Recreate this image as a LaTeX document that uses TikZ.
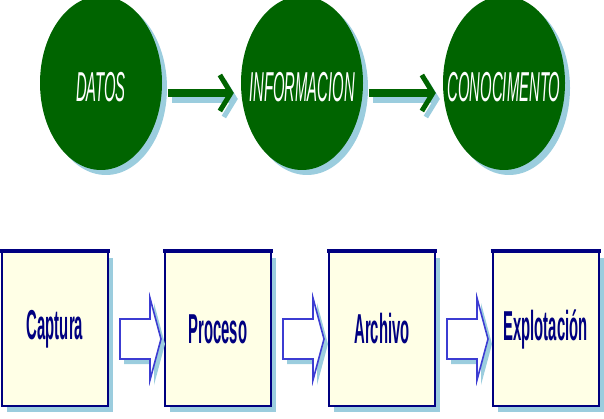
\documentclass[tikz,border=0pt]{standalone}
\usepackage{fontspec}
\setmainfont{Liberation Sans}
\usetikzlibrary{shapes.geometric,shadows,arrows.meta,calc}
\definecolor{dgreen}{RGB}{0,100,0}
\definecolor{shblue}{RGB}{155,205,222}
\definecolor{cream}{RGB}{255,255,230}
\definecolor{navy}{RGB}{0,0,128}
\definecolor{arrblue}{RGB}{60,60,210}
\newcommand\circtext[1]{\makebox[0pt]{\raisebox{-18.5pt}[0pt][0pt]{\scalebox{0.55}[1.55]{\fontsize{27}{27}\selectfont\itshape #1}}}}
\newcommand\boxtext[1]{\scalebox{0.55}[1.55]{\fontsize{27}{27}\selectfont\bfseries #1}}
\tikzset{
  circ/.style={ellipse, fill=dgreen, text=white, inner sep=0pt,
    minimum width=122pt, minimum height=174pt,
    drop shadow={shadow xshift=5pt, shadow yshift=-5pt, fill=shblue, opacity=1}},
  stage/.style={rectangle, fill=cream, draw=navy, line width=2pt, text=navy,
    inner sep=0pt, minimum width=106pt, minimum height=154pt,
    drop shadow={shadow xshift=5pt, shadow yshift=-6pt, fill=shblue, opacity=1}},
  garrow/.style={draw=dgreen, line width=8pt,
    -{Straight Barb[length=11pt,width=36pt,line width=5pt]}},
  gshadow/.style={draw=shblue, line width=8pt,
    -{Straight Barb[length=11pt,width=36pt,line width=5pt]}},
  harrow/.style={draw=arrblue, line width=1.6pt, fill=white, line join=miter},
  hshadow/.style={fill=shblue}
}
\newcommand\hollowarrow[1]{%
  \fill[hshadow, shift={($(#1.east)+(4,5)$)}] (11,-10) -- (41,-10) -- (41,-31) -- (52,10) -- (41,51) -- (41,30) -- (11,30) -- cycle;
  \draw[harrow, shift={(#1.east)}] (11,-10) -- (41,-10) -- (41,-31) -- (52,10) -- (41,51) -- (41,30) -- (11,30) -- cycle;
}
\begin{document}
\begin{tikzpicture}[x=1pt,y=-1pt]
\useasboundingbox (0,0) rectangle (604,419);
\clip (0,0) rectangle (604,419);
% top row
\node[circ] (datos) at (101,83) {\circtext{DATOS}};
\node[circ] (info) at (302,83) {\circtext{INFORMACION}};
\node[circ] (conoc) at (504,83) {\circtext{CONOCIMENTO}};
\draw[gshadow] ($(datos.east)+(10,16)$) -- ($(info.west)+(-3,16)$);
\draw[gshadow] ($(info.east)+(10,16)$) -- ($(conoc.west)+(-3,16)$);
\draw[garrow] ($(datos.east)+(6,10)$) -- ($(info.west)+(-7,10)$);
\draw[garrow] ($(info.east)+(6,10)$) -- ($(conoc.west)+(-7,10)$);
% bottom row
\node[stage] (captura) at (55,329) {\boxtext{Captura}};
\node[stage] (proceso) at (218,329) {\boxtext{Proceso}};
\node[stage] (archivo) at (382,329) {\boxtext{Archivo}};
\node[stage] (explot) at (545.5,329) {\boxtext{Explotación}};
\foreach \b in {captura,proceso,archivo,explot}{
  \draw[navy, line width=3.5pt] ($(\b.north west)+(-1,0)$) -- ($(\b.north east)+(1,0)$);
}
\hollowarrow{captura}
\hollowarrow{proceso}
\hollowarrow{archivo}
\end{tikzpicture}
\end{document}
